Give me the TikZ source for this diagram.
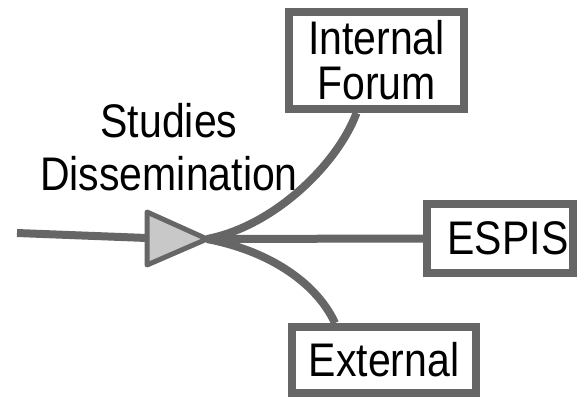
\documentclass[tikz,border=0pt]{standalone}
\usepackage{fontspec}
\setmainfont{Liberation Sans}
\usetikzlibrary{calc}

\definecolor{flowgray}{RGB}{102,102,102}
\definecolor{valvegray}{RGB}{200,200,200}
\newcommand{\tall}[1]{\scalebox{1}[1.15]{#1}}

\begin{document}
\begin{tikzpicture}[x=1pt,y=-1pt,
    flow/.style={draw=flowgray,line width=8pt},
    outbox/.style={draw=flowgray,line width=8pt,fill=white,inner sep=0pt,align=center,
      font=\fontsize{41}{45}\selectfont}]
  \useasboundingbox (0,0) rectangle (583,399);
  % sink boxes
  \node[outbox,minimum width=175pt,minimum height=97pt] (forum) at (376.5,60.5) {\tall{Internal}\\\tall{Forum}};
  \node[outbox,minimum width=146pt,minimum height=69pt] (espis) at (500,238.5) {\hspace*{16pt}\tall{ESPIS}};
  \node[outbox,minimum width=184pt,minimum height=66pt] (ext) at (384,360) {\tall{External}};
  % valve
  \coordinate (in) at (17,233);
  \coordinate (tip) at (207,239);
  \coordinate (forumin) at ($(forum.south)+(-20,0)$);
  \coordinate (extin) at ($(ext.north)+(-49,0)$);
  \draw[flow] (in) -- (147,238);
  \draw[flow] (tip) .. controls (275,226) and (338,163) .. (forumin);
  \draw[flow] (tip) -- (espis.west);
  \draw[flow] (tip) .. controls (265,250) and (315,280) .. (extin);
  \draw[draw=flowgray,fill=valvegray,line width=5pt,line join=round]
    (147,212) -- (tip) -- (147,265) -- cycle;
  \node[align=center,font=\fontsize{41}{53}\selectfont] (label) at (169,147) {\tall{Studies}\\\tall{Dissemination}};
\end{tikzpicture}
\end{document}
